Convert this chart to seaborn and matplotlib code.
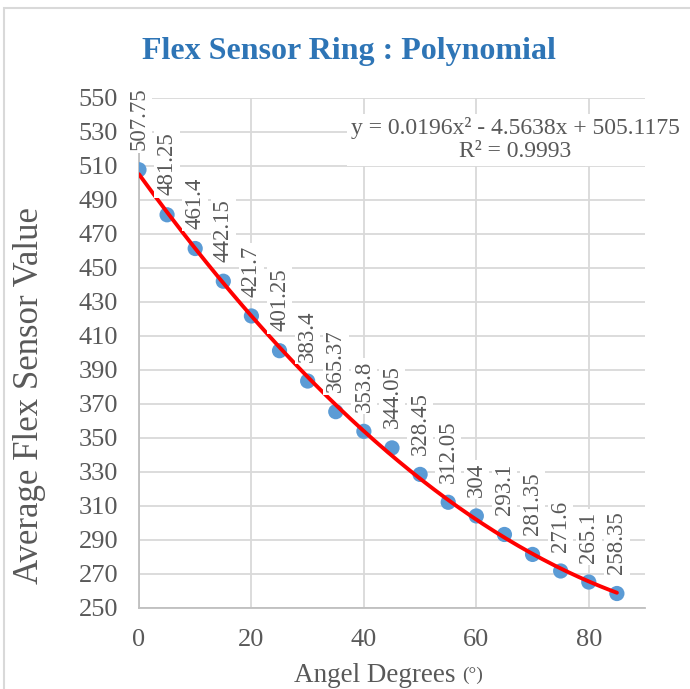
import numpy as np
import pandas as pd
import matplotlib
matplotlib.use("Agg")
import matplotlib.pyplot as plt
import seaborn as sns

# Flex sensor readings per bend angle
angles = [0, 5, 10, 15, 20, 25, 30, 35, 40, 45, 50, 55, 60, 65, 70, 75, 80, 85]
values = [507.75, 481.25, 461.4, 442.15, 421.7, 401.25, 383.4, 365.37, 353.8,
          344.05, 328.45, 312.05, 304, 293.1, 281.35, 271.6, 265.1, 258.35]
value_labels = ["507.75", "481.25", "461.4", "442.15", "421.7", "401.25", "383.4",
                "365.37", "353.8", "344.05", "328.45", "312.05", "304", "293.1",
                "281.35", "271.6", "265.1", "258.35"]
# second-order trendline coefficients (a x^2 + b x + c)
poly_coef = [0.0196, -4.5638, 505.1175]
r_squared = "0.9993"

x_ticks = [0, 20, 40, 60, 80]
y_ticks = list(range(250, 551, 20))

sns.set_theme(style="white")
plt.rcParams["font.family"] = ["Liberation Serif", "DejaVu Serif"]

GRAY = "#595959"
GRID = "#D9D9D9"
BLUE = "#5B9BD5"

fig = plt.figure(figsize=(6.9, 6.89), dpi=100)
ax = fig.add_axes([0.2014, 0.118, 0.7334, 0.7398])

df = pd.DataFrame({"angle": angles, "value": values})
xs = np.linspace(angles[0], angles[-1], 200)
trend = pd.DataFrame({"angle": xs, "value": np.polyval(poly_coef, xs)})

sns.scatterplot(data=df, x="angle", y="value", ax=ax, s=120, color=BLUE,
                edgecolor="none", zorder=3)
sns.lineplot(data=trend, x="angle", y="value", ax=ax, color="#FF0000",
             linewidth=2.8, zorder=4)

for a, v, t in zip(angles, values, value_labels):
    ax.annotate(t, (a, v), xytext=(0, 14), textcoords="offset points",
                rotation=90, ha="center", va="bottom", fontsize=16.5, color=GRAY,
                bbox=dict(boxstyle="square,pad=0.1", fc="white", ec="none"),
                zorder=5)

ax.set_xlim(0, 90)
ax.set_ylim(250, 550)
ax.set_xticks(x_ticks)
ax.set_yticks(y_ticks)
ax.tick_params(axis="both", labelsize=19, colors=GRAY, length=0, pad=15)
ax.grid(True, color=GRID, linewidth=1.3)
ax.set_axisbelow(True)
for side in ["top", "right"]:
    ax.spines[side].set_visible(False)
for side in ["left", "bottom"]:
    ax.spines[side].set_color("#BFBFBF")
    ax.spines[side].set_linewidth(1.3)

ax.set_xlabel("")
ax.set_ylabel("")
fig.text(30 / 690, 1 - 395 / 689, "Average Flex Sensor Value", rotation=90,
         fontsize=25, color=GRAY, ha="center", va="center")
fig.text(462 / 690, 1 - 675 / 689, "Angel Degrees ", fontsize=19.5, color=GRAY,
         ha="right", va="center")
fig.text(462 / 690, 1 - 675 / 689, "(°)", fontsize=14, color=GRAY, ha="left",
         va="center")

eq = (f"y = {poly_coef[0]}x² - {abs(poly_coef[1])}x + {poly_coef[2]}\n"
      f"R² = {r_squared}")
ax.text(0.744, 0.918, eq, transform=ax.transAxes, ha="center", va="center",
        fontsize=17, color=GRAY, linespacing=1.15,
        bbox=dict(boxstyle="square,pad=0.15", fc="white", ec="none"), zorder=6)

fig.suptitle("Flex Sensor Ring : Polynomial", x=0.505, y=0.946, fontsize=23,
             fontweight="bold", color="#2E75B6")

# chart area border
fig.patches.append(plt.Rectangle((0.006, -0.1), 1.2, 1.088, transform=fig.transFigure,
                                 fill=False, ec="#D9D9D9", lw=1.5))

fig.savefig("out.png", dpi=100)
